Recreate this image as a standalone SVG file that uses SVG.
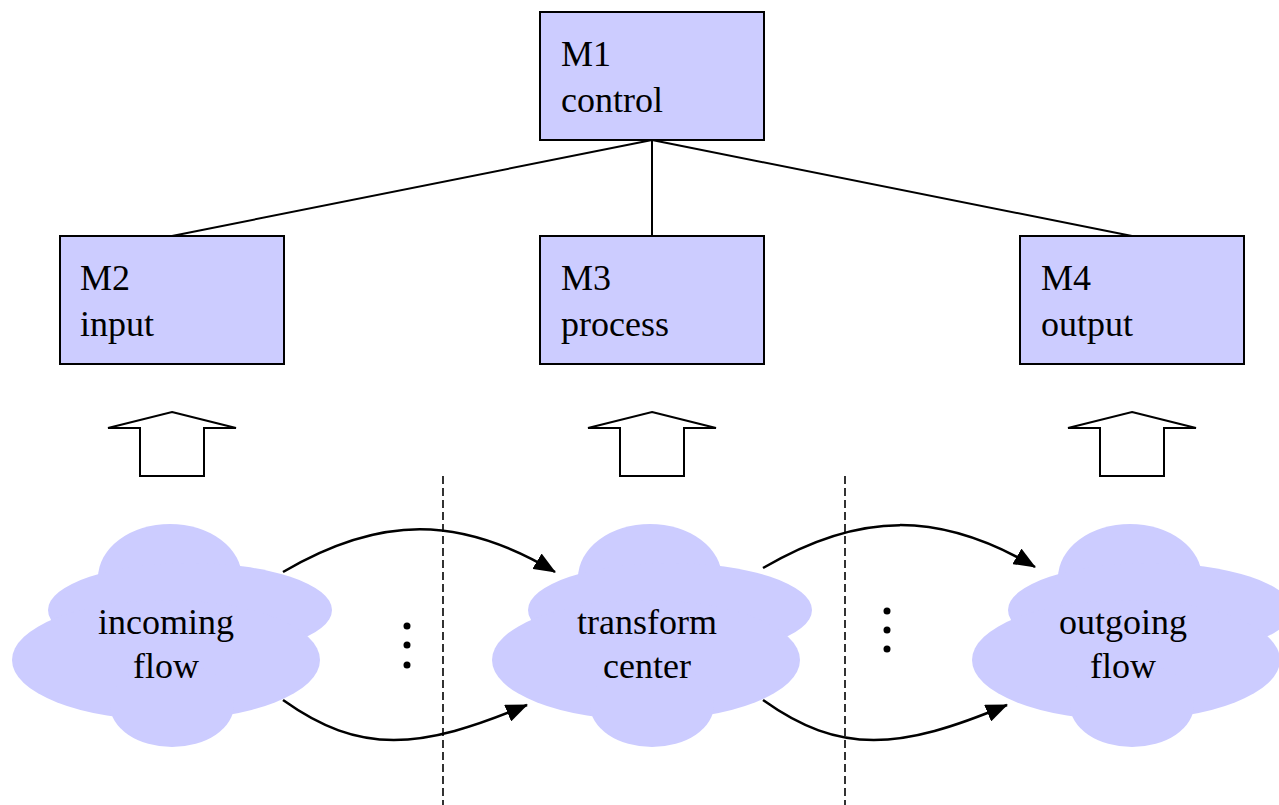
<svg xmlns="http://www.w3.org/2000/svg" width="1279" height="805" viewBox="0 0 1279 805">
<defs>
<style>
.box{fill:#CCCCFF;stroke:#000;stroke-width:2}
.lbl{font-family:"Liberation Serif","Times New Roman",serif;font-size:36px;fill:#000}
.ctr{text-anchor:middle}
.cloud{fill:#CCCCFF;stroke:none}
.tree{stroke:#000;stroke-width:2;fill:none}
.flow{stroke:#000;stroke-width:2.5;fill:none;marker-end:url(#ah)}
.dash{stroke:#000;stroke-width:1.6;stroke-dasharray:8 4;fill:none}
.up{fill:#fff;stroke:#000;stroke-width:2}
.dot{fill:#000}
</style>
<marker id="ah" viewBox="0 0 22 18" refX="21" refY="9" markerWidth="22" markerHeight="18" orient="auto" markerUnits="userSpaceOnUse">
<path d="M0,0 L22,9 L0,18 Z" fill="#000"/>
</marker>
<g id="cloudshape">
<ellipse cx="170" cy="578" rx="72" ry="54"/>
<ellipse cx="190" cy="610" rx="142" ry="47"/>
<ellipse cx="166" cy="660" rx="154" ry="60"/>
<ellipse cx="172" cy="705" rx="62" ry="42"/>
</g>
</defs>
<rect width="1279" height="805" fill="#fff"/>

<g id="connectors">
<line class="tree" x1="652" y1="140" x2="172" y2="236"/>
<line class="tree" x1="652" y1="140" x2="652" y2="236"/>
<line class="tree" x1="652" y1="140" x2="1132" y2="236"/>
<line class="dash" x1="443" y1="476" x2="443" y2="805"/>
<line class="dash" x1="845" y1="476" x2="845" y2="805"/>
<path class="flow" d="M283,572 C380,515 460,515 555,572"/>
<path class="flow" d="M283,700 C360,755 420,750 527,705"/>
<path class="flow" d="M763,568 C860,511 940,511 1035,567"/>
<path class="flow" d="M763,700 C840,755 900,750 1007,705"/>
</g>

<g id="M1">
<rect class="box" x="540" y="12" width="224" height="128"/>
<text class="lbl" x="561" y="66">M1</text>
<text class="lbl" x="561" y="112">control</text>
</g>
<g id="M2">
<rect class="box" x="60" y="236" width="224" height="128"/>
<text class="lbl" x="80" y="290">M2</text>
<text class="lbl" x="80" y="336">input</text>
</g>
<g id="M3">
<rect class="box" x="540" y="236" width="224" height="128"/>
<text class="lbl" x="561" y="290">M3</text>
<text class="lbl" x="561" y="336">process</text>
</g>
<g id="M4">
<rect class="box" x="1020" y="236" width="224" height="128"/>
<text class="lbl" x="1041" y="290">M4</text>
<text class="lbl" x="1041" y="336">output</text>
</g>

<g id="up-arrow-1"><polygon class="up" points="172,412 236,428 204,428 204,476 140,476 140,428 108,428"/></g>
<g id="up-arrow-2"><polygon class="up" points="652,412 716,428 684,428 684,476 620,476 620,428 588,428"/></g>
<g id="up-arrow-3"><polygon class="up" points="1132,412 1196,428 1164,428 1164,476 1100,476 1100,428 1068,428"/></g>

<g id="cloud-incoming">
<use href="#cloudshape" class="cloud"/>
<text class="lbl ctr" x="166" y="634">incoming</text>
<text class="lbl ctr" x="166" y="678">flow</text>
</g>
<g id="cloud-transform">
<use href="#cloudshape" class="cloud" transform="translate(480,0)"/>
<text class="lbl ctr" x="647" y="634">transform</text>
<text class="lbl ctr" x="647" y="678">center</text>
</g>
<g id="cloud-outgoing">
<use href="#cloudshape" class="cloud" transform="translate(960,0)"/>
<text class="lbl ctr" x="1123" y="634">outgoing</text>
<text class="lbl ctr" x="1123" y="678">flow</text>
</g>

<g id="dots">
<circle class="dot" cx="407" cy="626" r="3.5"/>
<circle class="dot" cx="407" cy="645" r="3.5"/>
<circle class="dot" cx="407" cy="665" r="3.5"/>
<circle class="dot" cx="887" cy="611" r="3.5"/>
<circle class="dot" cx="887" cy="630" r="3.5"/>
<circle class="dot" cx="887" cy="649" r="3.5"/>
</g>
</svg>
